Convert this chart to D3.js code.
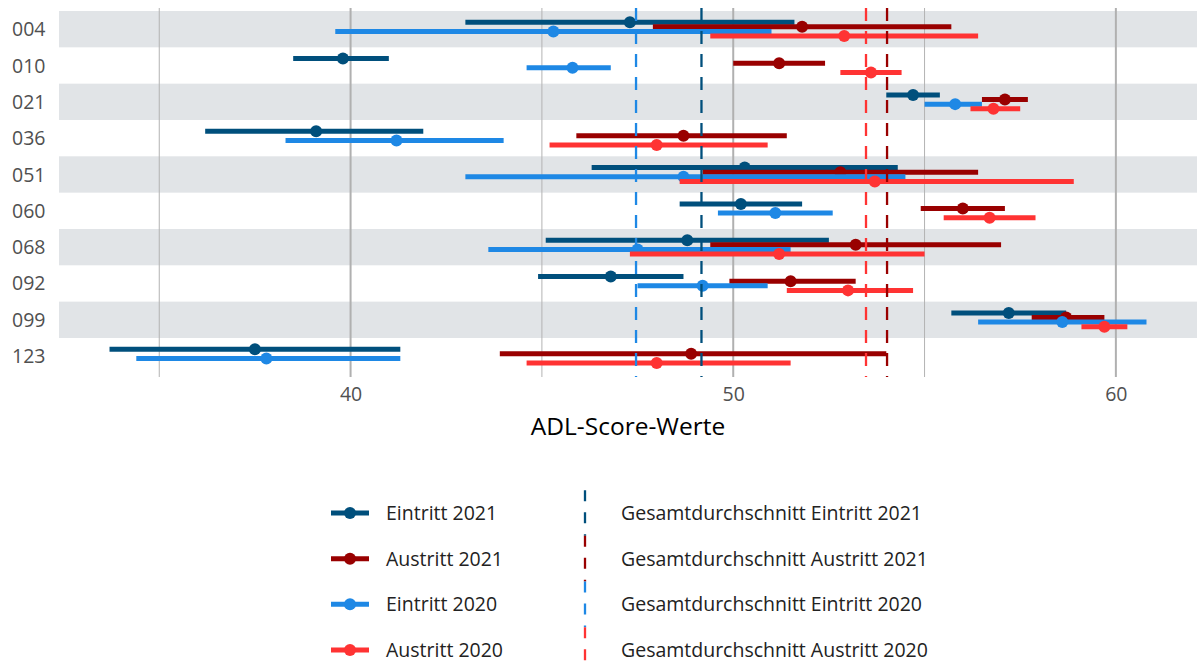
<!DOCTYPE html>
<html>
<head>
<meta charset="utf-8">
<script src="https://cdn.jsdelivr.net/npm/d3@7"></script>
<style>
  body { margin: 0; background: #fff; }
  svg text { font-family: "Open Sans", "Noto Sans", sans-serif; }
</style>
</head>
<body>
<div id="chart"></div>
<script>
// categories (units) and series
var units = ['004', '010', '021', '036', '051', '060', '068', '092', '099', '123'];
var seriesNames = ['Eintritt 2021', 'Austritt 2021', 'Eintritt 2020', 'Austritt 2020'];
var seriesColors = ['#004f7c', '#990000', '#1e88e5', '#ff3333'];

// [low, mean, high] per unit, one array per series
var eintritt2021 = [
  [43.0, 47.3, 51.6], [38.5, 39.8, 41.0], [54.0, 54.7, 55.4], [36.2, 39.1, 41.9], [46.3, 50.3, 54.3],
  [48.6, 50.2, 51.8], [45.1, 48.8, 52.5], [44.9, 46.8, 48.7], [55.7, 57.2, 58.7], [33.7, 37.5, 41.3]
];
var austritt2021 = [
  [47.9, 51.8, 55.7], [50.0, 51.2, 52.4], [56.5, 57.1, 57.7], [45.9, 48.7, 51.4], [49.2, 52.8, 56.4],
  [54.9, 56.0, 57.1], [49.4, 53.2, 57.0], [49.9, 51.5, 53.2], [57.8, 58.7, 59.7], [43.9, 48.9, 54.0]
];
var eintritt2020 = [
  [39.6, 45.3, 51.0], [44.6, 45.8, 46.8], [55.0, 55.8, 56.5], [38.3, 41.2, 44.0], [43.0, 48.7, 54.5],
  [49.6, 51.1, 52.6], [43.6, 47.5, 51.5], [47.5, 49.2, 50.9], [56.4, 58.6, 60.8], [34.4, 37.8, 41.3]
];
var austritt2020 = [
  [49.4, 52.9, 56.4], [52.8, 53.6, 54.4], [56.2, 56.8, 57.5], [45.2, 48.0, 50.9], [48.6, 53.7, 58.9],
  [55.5, 56.7, 57.9], [47.3, 51.2, 55.0], [51.4, 53.0, 54.7], [59.1, 59.7, 60.3], [44.6, 48.0, 51.5]
];
var seriesValues = [eintritt2021, austritt2021, eintritt2020, austritt2020];

// overall means (dashed lines)
var meanNames = ['Gesamtdurchschnitt Eintritt 2021', 'Gesamtdurchschnitt Austritt 2021',
                 'Gesamtdurchschnitt Eintritt 2020', 'Gesamtdurchschnitt Austritt 2020'];
var meanValues = [49.17, 54.02, 47.46, 53.47];

var xTicks = [40, 50, 60];
var xMinor = [35, 45, 55];

var width = 1197, height = 671;
var svg = d3.select('#chart').append('svg')
    .attr('width', width)
    .attr('height', height);

var x = d3.scaleLinear().domain([32.38, 62.12]).range([59, 1197]);
var y = d3.scaleBand().domain(units).range([11, 374.3]).padding(0);
var dodge = d3.scalePoint().domain(seriesNames).range([-6.9, 6.9]);

var panelTop = 8, panelBottom = 377;

// alternating bands
svg.append('g').selectAll('rect')
    .data(units.filter(function (d, i) { return i % 2 === 0; }))
    .enter().append('rect')
    .attr('x', x.range()[0])
    .attr('width', x.range()[1] - x.range()[0])
    .attr('y', function (d) { return y(d); })
    .attr('height', y.bandwidth())
    .attr('fill', '#e1e4e7');

// grid lines
svg.append('g').selectAll('line.minor')
    .data(xMinor)
    .enter().append('line')
    .attr('x1', x).attr('x2', x)
    .attr('y1', panelTop).attr('y2', panelBottom)
    .attr('stroke', '#b3b3b3').attr('stroke-width', 1);

svg.append('g').selectAll('line.major')
    .data(xTicks)
    .enter().append('line')
    .attr('x1', x).attr('x2', x)
    .attr('y1', panelTop).attr('y2', panelBottom)
    .attr('stroke', '#b0b0b0').attr('stroke-width', 2);

// error bars with points
seriesNames.forEach(function (name, s) {
  var g = svg.append('g');
  var rows = seriesValues[s].map(function (v, i) { return { unit: units[i], lo: v[0], mean: v[1], hi: v[2] }; });
  var cy = function (d) { return y(d.unit) + y.bandwidth() / 2 + dodge(name); };

  g.selectAll('line')
      .data(rows)
      .enter().append('line')
      .attr('x1', function (d) { return x(d.lo); })
      .attr('x2', function (d) { return x(d.hi); })
      .attr('y1', cy).attr('y2', cy)
      .attr('stroke', seriesColors[s])
      .attr('stroke-width', 5);

  g.selectAll('circle')
      .data(rows)
      .enter().append('circle')
      .attr('cx', function (d) { return x(d.mean); })
      .attr('cy', cy)
      .attr('r', 6)
      .attr('fill', seriesColors[s]);
});

// overall mean lines
svg.append('g').selectAll('line')
    .data(meanValues)
    .enter().append('line')
    .attr('x1', x).attr('x2', x)
    .attr('y1', panelTop).attr('y2', panelBottom)
    .attr('stroke', function (d, i) { return seriesColors[i]; })
    .attr('stroke-width', 2.3)
    .attr('stroke-dasharray', '13,10');

// y labels
svg.append('g').selectAll('text')
    .data(units)
    .enter().append('text')
    .attr('x', 12)
    .attr('y', function (d) { return y(d) + y.bandwidth() / 2; })
    .attr('dy', '0.36em')
    .attr('font-size', 19.5)
    .attr('fill', '#505050')
    .text(function (d) { return d; });

// x axis
var xAxis = d3.axisBottom(x).tickValues(xTicks).tickSize(0).tickPadding(10);
var axisG = svg.append('g')
    .attr('transform', 'translate(0,' + panelBottom + ')')
    .call(xAxis);
axisG.select('.domain').remove();
axisG.selectAll('text')
    .attr('font-size', 19.5)
    .attr('font-family', '"Open Sans", sans-serif')
    .attr('fill', '#505050');

svg.append('text')
    .attr('x', (x.range()[0] + x.range()[1]) / 2)
    .attr('y', 435)
    .attr('text-anchor', 'middle')
    .attr('font-size', 24.5)
    .attr('fill', '#000')
    .text('ADL-Score-Werte');

// legend
var legendY = d3.scalePoint().domain(seriesNames).range([513, 650]);
var rowH = 45.7;

var left = svg.append('g');
seriesNames.forEach(function (name, i) {
  var ly = legendY(name);
  left.append('line')
      .attr('x1', 331).attr('x2', 369)
      .attr('y1', ly).attr('y2', ly)
      .attr('stroke', seriesColors[i]).attr('stroke-width', 5);
  left.append('circle')
      .attr('cx', 350).attr('cy', ly).attr('r', 6)
      .attr('fill', seriesColors[i]);
  left.append('text')
      .attr('x', 386).attr('y', ly).attr('dy', '0.36em')
      .attr('font-size', 19.5).attr('fill', '#222')
      .text(name);
});

var right = svg.append('g');
meanNames.forEach(function (name, i) {
  var ly = legendY(seriesNames[i]);
  right.append('line')
      .attr('x1', 585).attr('x2', 585)
      .attr('y1', ly - rowH / 2).attr('y2', ly + rowH / 2)
      .attr('stroke', seriesColors[i]).attr('stroke-width', 2.3)
      .attr('stroke-dasharray', '11,11');
  right.append('text')
      .attr('x', 621).attr('y', ly).attr('dy', '0.36em')
      .attr('font-size', 19.5).attr('fill', '#222')
      .text(name);
});
</script>
</body>
</html>
